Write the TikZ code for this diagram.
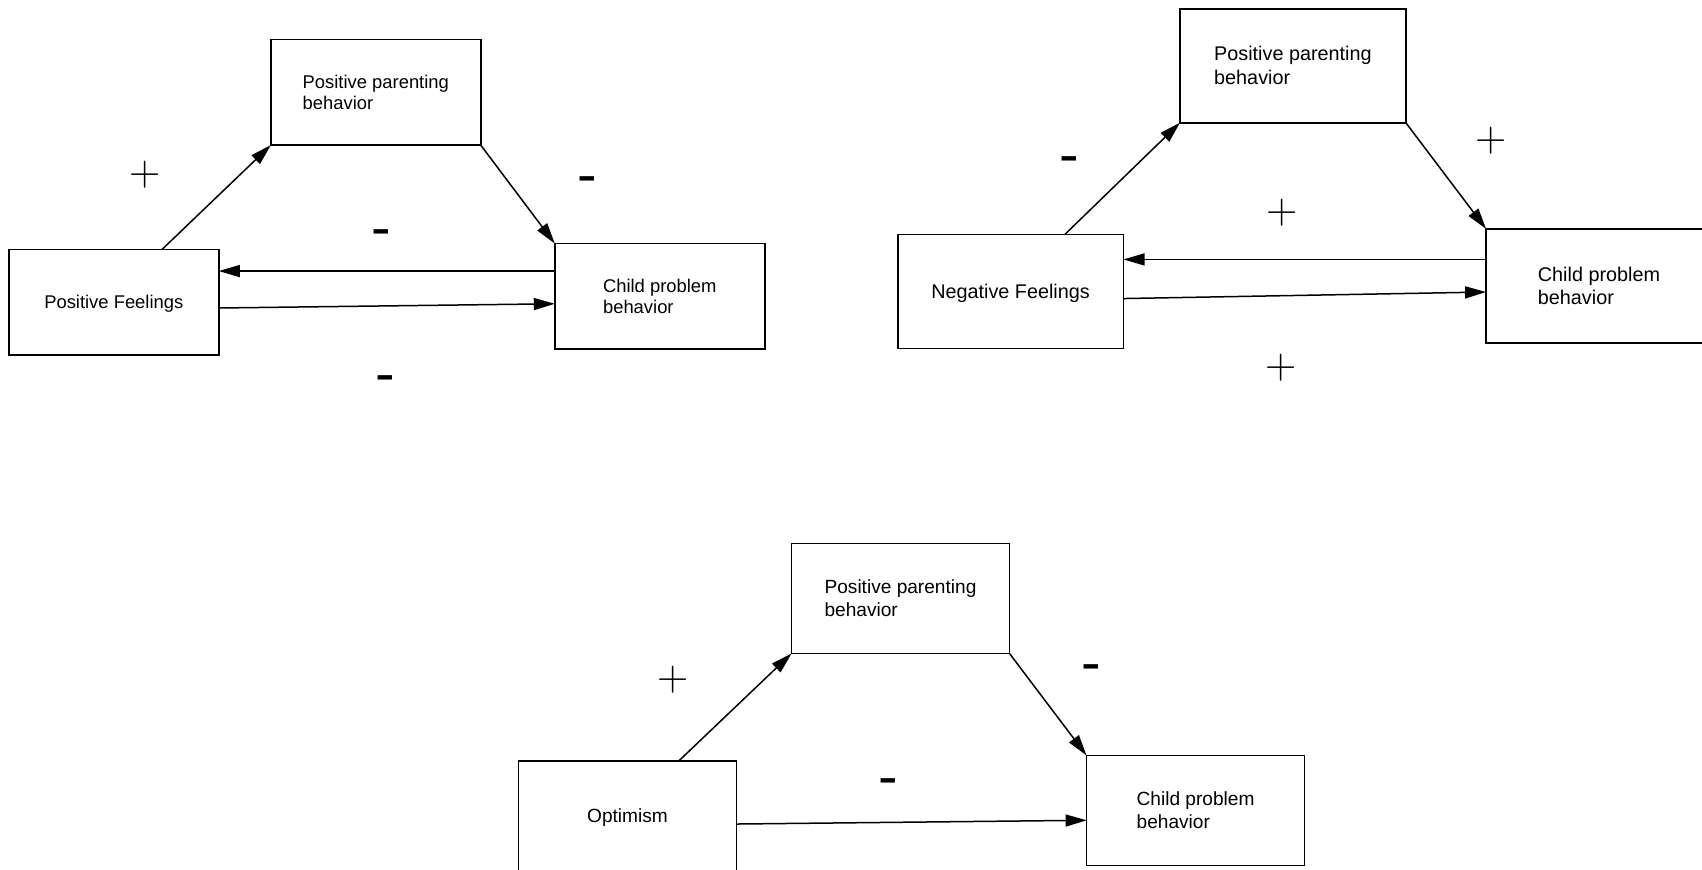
\documentclass[tikz,border=0pt]{standalone}
\usepackage{fontspec}
\setsansfont{Liberation Sans}
\usetikzlibrary{arrows.meta,positioning,calc}

\begin{document}
\begin{tikzpicture}[
		x=0.5pt, y=-0.5pt,
		box/.style={rectangle, draw, line width=0.85pt, align=left,
				inner sep=0pt, outer sep=0pt},
		boxone/.style={box, minimum width=105pt, minimum height=52.8pt,
				font=\sffamily\fontsize{9.2}{10.85}\selectfont},
		boxtwo/.style={box, minimum width=112.9pt, minimum height=57pt,
				font=\sffamily\fontsize{9.9}{11.9}\selectfont},
		boxthree/.style={box, minimum width=109pt, minimum height=55pt,
				font=\sffamily\fontsize{9.55}{11.4}\selectfont},
		oneline/.style={text depth=0pt},
		arr/.style={-{Triangle[length=10.5pt, width=6pt]}, line width=0.75pt},
		signplus/.style={font=\fontsize{21.7}{22}\selectfont, inner sep=0pt},
		signminus/.style={font=\bfseries\fontsize{24}{24}\selectfont, inner sep=0pt, yshift=-2.6pt},
	]

	\useasboundingbox (0,0) rectangle (1702,870);
	\clip (0,0) rectangle (1702,870);

	% Model 1: positive feelings
	\node[boxone, oneline] (pf1) at (113.8,302.2) {Positive Feelings};
	\node[boxone, above right=52.1pt and 26pt of pf1] (ppb1) {Positive parenting\\behavior};
	\node[boxone, below right=49.2pt and 37pt of ppb1] (cpb1) {Child problem\\behavior};

	\draw[arr] ($(pf1.north west)!0.73!(pf1.north east)$) -- (ppb1.south west);
	\draw[arr] (ppb1.south east) -- (cpb1.north west);
	\draw[arr] ($(cpb1.north west)!0.26!(cpb1.south west)$) coordinate (back1) -- (back1 -| pf1.east);
	\draw[arr] ($(pf1.north east)!0.555!(pf1.south east)$) -- ($(cpb1.north west)!0.57!(cpb1.south west)$);

	\node[signplus]  (s1a) at (144.8,174.5) {+};
	\node[signminus] (s1b) at (588.5,177.8) {-};
	\node[signminus] (s1c) at (382.5,231)   {-};
	\node[signminus] (s1d) at (386.4,376.7) {-};

	% Model 2: negative feelings
	\node[boxtwo, oneline] (nf2) at (1010.6,291.5) {Negative Feelings};
	\node[boxtwo, above right=55.9pt and 28.25pt of nf2] (ppb2) {Positive parenting\\behavior};
	\node[boxtwo, below right=53.15pt and 40.15pt of ppb2] (cpb2) {Child problem\\behavior};

	\draw[arr] ($(nf2.north west)!0.74!(nf2.north east)$) -- (ppb2.south west);
	\draw[arr] (ppb2.south east) -- (cpb2.north west);
	\draw[arr] ($(cpb2.north west)!0.267!(cpb2.south west)$) coordinate (back2) -- (back2 -| nf2.east);
	\draw[arr] ($(nf2.north east)!0.562!(nf2.south east)$) -- ($(cpb2.north west)!0.553!(cpb2.south west)$);

	\node[signminus] (s2a) at (1070.3,158)   {-};
	\node[signplus]  (s2b) at (1490.9,140.5) {+};
	\node[signplus]  (s2c) at (1282.5,212.2) {+};
	\node[signplus]  (s2d) at (1281.4,367.4) {+};

	% Model 3: optimism
	\node[boxthree, oneline] (opt3) at (627.5,816) {Optimism};
	\node[boxthree, above right=53.75pt and 27.5pt of opt3] (ppb3) {Positive parenting\\behavior};
	\node[boxthree, below right=51pt and 38.55pt of ppb3] (cpb3) {Child problem\\behavior};

	\draw[arr] ($(opt3.north west)!0.735!(opt3.north east)$) -- (ppb3.south west);
	\draw[arr] (ppb3.south east) -- (cpb3.north west);
	\draw[arr] ($(opt3.north east)!0.573!(opt3.south east)$) -- ($(cpb3.north west)!0.589!(cpb3.south west)$);

	\node[signplus]  (s3a) at (673.5,680)  {+};
	\node[signminus] (s3b) at (1092,665.4) {-};
	\node[signminus] (s3c) at (889,779.4)  {-};

\end{tikzpicture}
\end{document}
